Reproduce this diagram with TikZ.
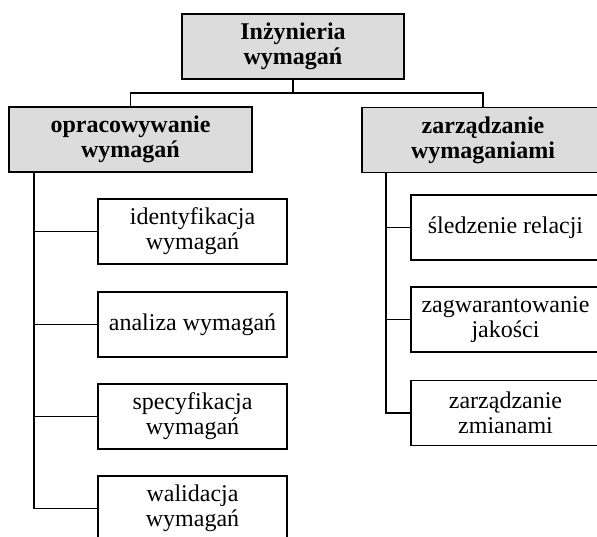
\documentclass[tikz,border=0pt]{standalone}
\usepackage{fontspec}
\setmainfont{Liberation Serif}
\definecolor{boxgray}{RGB}{220,220,220}
\tikzset{
  headbox/.style={draw,line width=1.6pt,fill=boxgray,font=\bfseries,
    align=center,minimum height=65pt,inner sep=2pt},
  leafbox/.style={draw,line width=1.6pt,fill=white,align=center,
    minimum width=189pt,minimum height=65pt,inner sep=2pt},
  link/.style={line width=1.6pt}
}
\begin{document}
\begin{tikzpicture}[x=1pt,y=1pt]
   \useasboundingbox (0,0) rectangle (597,-537);
   \clip (0,0) rectangle (597,-537);
   \fontsize{24}{25}\selectfont
   % Root
   \node[headbox,minimum width=222pt] (root) at (293,-46.5) {Inżynieria\\wymagań};
   % Main branches
   \node[headbox,minimum width=243pt] (dev) at (130.5,-139.5) {opracowywanie\\wymagań};
   \node[headbox,minimum width=242pt] (mgmt) at (483,-140) {zarządzanie\\wymaganiami};
   % Leaves of dev
   \node[leafbox] (ident) at (192.5,-231.5) {identyfikacja\\wymagań};
   \node[leafbox] (anal)  at (192.5,-324.5) {analiza wymagań};
   \node[leafbox] (spec)  at (192.5,-416.5) {specyfikacja\\wymagań};
   \node[leafbox] (valid) at (192.5,-508.5) {walidacja\\wymagań};
   % Leaves of mgmt
   \node[leafbox] (trace) at (505.5,-227.5) {śledzenie relacji};
   \node[leafbox] (qual)  at (505.5,-319.5) {zagwarantowanie\\jakości};
   \node[leafbox] (change) at (505.5,-413) {zarządzanie\\zmianami};
   % Root links
   \coordinate (hub) at (root.south |- 0,-93);
   \draw[link] (root.south) -- (hub);
   \draw[link] (dev.north) |- (hub) -| (mgmt.north);
   % Trunks
   \coordinate (devtrunk) at (dev.south -| 34,0);
   \coordinate (mgmttrunk) at (mgmt.south -| 386,0);
   \foreach \leaf in {ident,anal,spec,valid}
     \draw[link] (devtrunk) |- (\leaf.west);
   \foreach \leaf in {trace,qual,change}
     \draw[link] (mgmttrunk) |- (\leaf.west);
\end{tikzpicture}
\end{document}
